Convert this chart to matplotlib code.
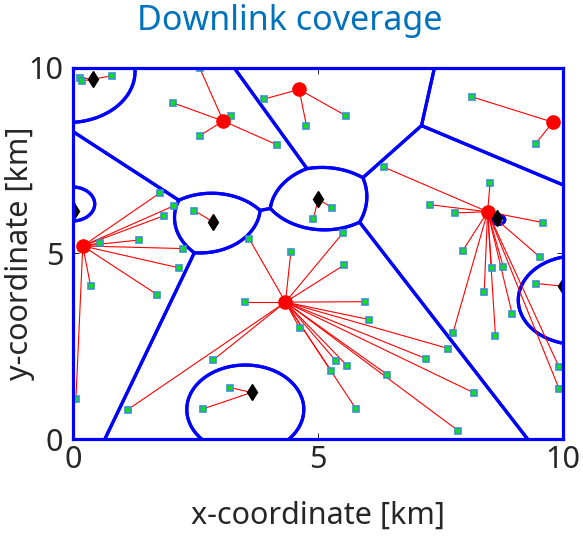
import numpy as np
import matplotlib.pyplot as plt

plt.rcParams['font.family'] = ['Noto Sans', 'DejaVu Sans']

# base stations: first six are macro cells, the rest small cells
bs_x = [3.07, 4.62, 9.80, 0.20, 4.34, 8.47, 0.40, 0.02, 2.87, 5.01, 8.66, 10.0, 3.65]
bs_y = [8.56, 9.41, 8.53, 5.20, 3.69, 6.12, 9.68, 6.15, 5.84, 6.46, 5.94, 4.12, 1.26]
bs_power = [46, 46, 46, 46, 46, 46, 30, 30, 30, 30, 30, 30, 30]  # dBm
path_loss_exp = 4

# users and the base station each one is attached to
user_x = [0.14, 0.19, 0.79,
          2.59, 2.04, 3.23, 2.59, 4.17,
          3.90, 4.77, 5.58,
          8.15, 9.45,
          1.78, 2.06, 1.85, 1.35, 0.55, 2.24, 2.17, 0.36, 1.72, 0.06,
          2.48,
          4.91, 5.30,
          3.60, 4.45, 5.52, 5.53, 3.51, 5.97, 6.05, 4.63, 5.37, 5.60, 5.27,
          6.42, 5.78, 2.87, 1.12, 7.67, 7.21, 8.19, 7.87,
          3.21, 2.66,
          6.35, 8.52, 7.29, 7.80, 9.60, 7.96, 9.54, 8.55, 8.79, 8.40, 8.97,
          8.63, 7.76, 9.93, 9.93,
          9.46]
user_y = [9.73, 9.64, 9.78,
          9.98, 9.05, 8.70, 8.17, 7.92,
          9.15, 8.43, 8.70,
          9.21, 7.95,
          6.63, 6.28, 6.01, 5.36, 5.28, 5.13, 4.61, 4.12, 3.89, 1.09,
          6.15,
          5.93, 6.22,
          5.39, 5.03, 5.56, 4.68, 3.69, 3.70, 3.22, 2.99, 2.11, 1.98, 1.85,
          1.74, 0.82, 2.14, 0.80, 2.44, 2.17, 1.25, 0.23,
          1.39, 0.82,
          7.32, 6.89, 6.31, 6.09, 5.83, 5.07, 4.90, 4.62, 4.64, 3.97, 3.38,
          2.79, 2.85, 1.94, 1.36,
          4.19]
user_bs = [6, 6, 6,
           0, 0, 0, 0, 0,
           1, 1, 1,
           2, 2,
           3, 3, 3, 3, 3, 3, 3, 3, 3, 3,
           8,
           9, 9,
           4, 4, 4, 4, 4, 4, 4, 4, 4, 4, 4,
           4, 4, 4, 4, 4, 4, 4, 4,
           12, 12,
           5, 5, 5, 5, 5, 5, 5, 5, 5, 5, 5,
           5, 5, 5, 5,
           11]

n_macro = 6

fig = plt.figure(figsize=(5.83, 5.36), dpi=100)
ax = fig.add_axes([73 / 583, 96.7 / 536, 489.5 / 583, 371.8 / 536])

# cell borders from the max received power rule
g = np.linspace(0, 10, 801)
X, Y = np.meshgrid(g, g)
rx = np.array([p - 10 * path_loss_exp * np.log10(np.hypot(X - bx, Y - by) + 1e-6)
               for bx, by, p in zip(bs_x, bs_y, bs_power)])
for i in range(len(bs_x)):
    best_other = np.delete(rx, i, axis=0).max(axis=0)
    ax.contour(X, Y, rx[i] - best_other, levels=[0], colors='#0000ff', linewidths=2.3)

# links
for ux, uy, b in zip(user_x, user_y, user_bs):
    ax.plot([ux, bs_x[b]], [uy, bs_y[b]], color='red', linewidth=0.8, zorder=3)

ax.plot(user_x, user_y, 's', ms=4.2, mfc='#10e010', mec='#3a90d0', mew=1.2, zorder=4)
ax.plot(bs_x[:n_macro], bs_y[:n_macro], 'o', ms=9.5, color='red', zorder=5)
ax.plot(bs_x[n_macro:], bs_y[n_macro:], 'd', ms=8, color='black', zorder=5)

ax.set_xlim(0, 10)
ax.set_ylim(0, 10)
ax.set_xticks([0, 5, 10])
ax.set_yticks([0, 5, 10])
ax.tick_params(direction='in', length=4, width=0.6, labelsize=22, labelcolor='#262626',
               top=True, right=True)
ax.tick_params(axis='x', pad=4)
ax.tick_params(axis='y', pad=7)
for s in ax.spines.values():
    s.set_color('#0000ff')
    s.set_linewidth(2.3)
    s.set_zorder(6)

ax.set_xlabel('x-coordinate [km]', fontsize=22, color='#262626')
ax.xaxis.set_label_coords(0.5, -0.165)
ax.set_ylabel('y-coordinate [km]', fontsize=22, color='#262626')
ax.yaxis.set_label_coords(-0.078, 0.5)
fig.text(290 / 583, 1 - 21 / 536, 'Downlink coverage', fontsize=24.5, color='#0072BD',
         ha='center', va='center')

fig.savefig('out.png', dpi=100)
